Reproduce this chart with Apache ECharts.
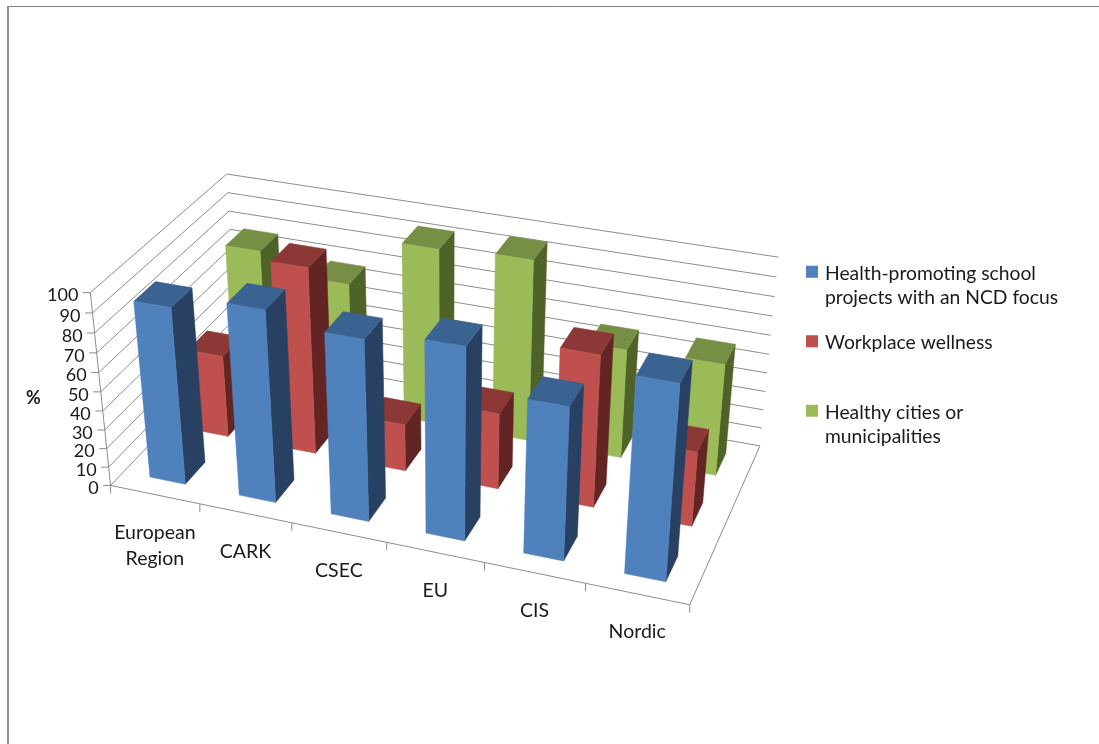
<!DOCTYPE html>
<html>
<head>
<meta charset="utf-8">
<style>html,body{margin:0;padding:0;background:#fff}#chart{width:1099px;height:744px}</style>
<script src="https://cdn.jsdelivr.net/npm/echarts@6/dist/echarts.min.js"></script>
</head>
<body>
<div id="chart"></div>
<script>
// Chart content
const categories = ['European\nRegion', 'CARK', 'CSEC', 'EU', 'CIS', 'Nordic'];
const valueTicks = [0, 10, 20, 30, 40, 50, 60, 70, 80, 90, 100];
const schoolProjects = [92, 99, 93, 98, 78, 98];
const workplaceWellness = [44, 98, 25, 40, 79, 39];
const healthyCities = [78, 68, 94, 96, 58, 59];
const seriesNames = [
  'Health-promoting school projects with an NCD focus',
  'Workplace wellness',
  'Healthy cities or municipalities'
];
const wrappedNames = [
  '{gap| }\n{label|Health-promoting school}\n{label|projects with an NCD focus}',
  '{lift| }\n{label|Workplace wellness}',
  '{gap| }\n{label|Healthy cities or}\n{label|municipalities}'
];

// View of the box [x, value, depth], each in 0..1, as seen from the camera
const viewCorners = [
  [[0, 0, 0], [110, 483]],
  [[1, 0, 0], [690, 606]],
  [[1, 0, 1], [760, 444]],
  [[0, 0, 1], [238, 355]],
  [[0, 1, 0], [90.7, 294]],
  [[0, 1, 1], [226.7, 172]],
  [[1, 1, 1], [778, 258]]
];

// Least-squares fit of the 3x4 camera matrix to the view corners
function fitCamera(corners) {
  const n = 11;
  const ata = Array.from({ length: n }, () => new Array(n + 1).fill(0));
  function addRow(row, rhs) {
    for (let i = 0; i < n; i++) {
      for (let j = 0; j < n; j++) ata[i][j] += row[i] * row[j];
      ata[i][n] += row[i] * rhs;
    }
  }
  corners.forEach(([[x, y, z], [u, v]]) => {
    addRow([x, y, z, 1, 0, 0, 0, 0, -u * x, -u * y, -u * z], u);
    addRow([0, 0, 0, 0, x, y, z, 1, -v * x, -v * y, -v * z], v);
  });
  for (let c = 0; c < n; c++) {
    let p = c;
    for (let r = c + 1; r < n; r++) if (Math.abs(ata[r][c]) > Math.abs(ata[p][c])) p = r;
    [ata[c], ata[p]] = [ata[p], ata[c]];
    for (let r = 0; r < n; r++) {
      if (r === c) continue;
      const f = ata[r][c] / ata[c][c];
      for (let k = c; k <= n; k++) ata[r][k] -= f * ata[c][k];
    }
  }
  return ata.map((row, i) => row[n] / row[i]);
}
const cam = fitCamera(viewCorners);
function project(x, y, z) {
  const w = cam[8] * x + cam[9] * y + cam[10] * z + 1;
  return [
    (cam[0] * x + cam[1] * y + cam[2] * z + cam[3]) / w,
    (cam[4] * x + cam[5] * y + cam[6] * z + cam[7]) / w
  ];
}

// Category band and value, read through the hidden cartesian axes as 0..1
function unit(api, params, cat, value) {
  const pt = api.coord([cat, value]);
  const g = params.coordSys;
  return [(pt[0] - g.x) / g.width, (g.y + g.height - pt[1]) / g.height];
}

const gridColor = '#8c8c8c';
const textColor = '#1a1a1a';
const fontFamily = 'Lato, Carlito, sans-serif';
const bandCount = categories.length;
const rowCount = 3;
const barWidthShare = 0.4;
const barDepthShare = 0.45;
const rowFrontGap = 0.28;

function line(a, b, color) {
  return {
    type: 'line',
    shape: { x1: a[0], y1: a[1], x2: b[0], y2: b[1] },
    style: { stroke: color || gridColor, lineWidth: 1 },
    silent: true
  };
}

// Walls: one gridline per value tick, plus its tick mark and label on the front corner
function renderValueTick(params, api) {
  const v = unit(api, params, 0, api.value(1))[1];
  const front = project(0, v, 0);
  const tickEnd = [front[0] - 7.5, front[1]];
  return {
    type: 'group',
    children: [
      line(front, project(0, v, 1)),
      line(project(0, v, 1), project(1, v, 1)),
      line(front, tickEnd),
      {
        type: 'text',
        style: {
          text: String(api.value(1)),
          x: tickEnd[0] - 4.5,
          y: front[1] + 3,
          align: 'right',
          verticalAlign: 'middle',
          font: '18px ' + fontFamily,
          fill: textColor
        }
      }
    ]
  };
}

// Floor edges, category ticks and category labels
function renderCategoryTick(params, api) {
  const cat = api.value(0);
  const u = unit(api, params, cat, 0)[0];
  const half = 0.5 / bandCount;
  const left = project(u - half, 0, 0);
  const right = project(u + half, 0, 0);
  const mid = project(u, 0, 0);
  const children = [
    line(left, right),
    line(right, [right[0], right[1] + 8]),
    {
      type: 'text',
      style: {
        text: categories[cat],
        x: mid[0],
        y: mid[1] + 25,
        align: 'center',
        verticalAlign: 'top',
        lineHeight: 26,
        font: '19.5px ' + fontFamily,
        fill: textColor
      }
    }
  ];
  if (cat === 0) children.push(line(left, [left[0], left[1] + 8]));
  if (cat === bandCount - 1) children.push(line(right, project(1, 0, 1)));
  return { type: 'group', children };
}

function renderFrontAxis(params) {
  return line(project(0, 0, 0), project(0, 1, 0));
}

// One solid bar: side and top faces behind the front face
function barRenderer(row, faces) {
  return function (params, api) {
    const [u, v] = unit(api, params, api.value(0), api.value(1));
    const hw = barWidthShare / 2 / bandCount;
    const x0 = u - hw, x1 = u + hw;
    const z0 = (row + rowFrontGap) / rowCount;
    const z1 = (row + rowFrontGap + barDepthShare) / rowCount;
    const poly = (pts, color) => ({
      type: 'polygon',
      shape: { points: pts },
      style: { fill: color, stroke: color, lineWidth: 0.5 }
    });
    return {
      type: 'group',
      children: [
        poly([project(x1, 0, z0), project(x1, 0, z1), project(x1, v, z1), project(x1, v, z0)], faces.side),
        poly([project(x0, v, z0), project(x1, v, z0), project(x1, v, z1), project(x0, v, z1)], faces.top),
        poly([project(x0, 0, z0), project(x1, 0, z0), project(x1, v, z0), project(x0, v, z0)], faces.front)
      ]
    };
  };
}

function barSeries(nameIndex, values, row, faces) {
  return {
    type: 'custom',
    name: seriesNames[nameIndex],
    coordinateSystem: 'cartesian2d',
    renderItem: barRenderer(row, faces),
    encode: { x: 0, y: 1 },
    itemStyle: { color: faces.front },
    data: values.map((v, i) => [i, v]),
    z: 10 - row
  };
}

const chart = echarts.init(document.getElementById('chart'), null, { renderer: 'canvas' });
chart.setOption({
  animation: false,
  backgroundColor: '#ffffff',
  grid: { left: 100, top: 100, width: 600, height: 400 },
  xAxis: { type: 'category', data: categories, show: false },
  yAxis: { type: 'value', min: 0, max: 100, interval: 10, show: false },
  legend: {
    orient: 'vertical',
    left: 806,
    top: 233,
    padding: 0,
    itemWidth: 12,
    itemHeight: 12,
    itemGap: 16.5,
    icon: 'rect',
    selectedMode: false,
    data: seriesNames,
    formatter: name => wrappedNames[seriesNames.indexOf(name)],
    textStyle: {
      fontFamily: fontFamily,
      fontSize: 19.3,
      color: textColor,
      padding: [0, 0, 0, 2],
      rich: {
        // Spacer lines keep each swatch level with the first line of its name
        gap: { height: 28.5, lineHeight: 28.5, fontSize: 1 },
        lift: { height: 4, lineHeight: 4, fontSize: 1 },
        label: { fontFamily: fontFamily, fontSize: 19.3, color: textColor, height: 24.5, lineHeight: 24.5 }
      }
    }
  },
  graphic: [
    { type: 'line', shape: { x1: 8, y1: 6.5, x2: 1099, y2: 6.5 }, style: { stroke: '#808080', lineWidth: 1 } },
    { type: 'line', shape: { x1: 8, y1: 6, x2: 8, y2: 744 }, style: { stroke: '#909090', lineWidth: 2 } },
    {
      type: 'text',
      left: 26,
      top: 389,
      style: { text: '%', font: 'bold 18px ' + fontFamily, fill: textColor }
    }
  ],
  series: [
    {
      type: 'custom',
      coordinateSystem: 'cartesian2d',
      renderItem: renderValueTick,
      encode: { x: 0, y: 1 },
      data: valueTicks.map(v => [0, v]),
      z: 1
    },
    {
      type: 'custom',
      coordinateSystem: 'cartesian2d',
      renderItem: renderCategoryTick,
      encode: { x: 0, y: 1 },
      data: categories.map((c, i) => [i, 0]),
      z: 1
    },
    {
      type: 'custom',
      coordinateSystem: 'cartesian2d',
      renderItem: renderFrontAxis,
      encode: { x: 0, y: 1 },
      data: [[0, 100]],
      z: 1
    },
    barSeries(2, healthyCities, 2, { front: '#9bbb59', side: '#4f6228', top: '#778f44' }),
    barSeries(1, workplaceWellness, 1, { front: '#c0504d', side: '#632523', top: '#8c3836' }),
    barSeries(0, schoolProjects, 0, { front: '#4f81bd', side: '#284162', top: '#3b6391' })
  ]
});
</script>
</body>
</html>
